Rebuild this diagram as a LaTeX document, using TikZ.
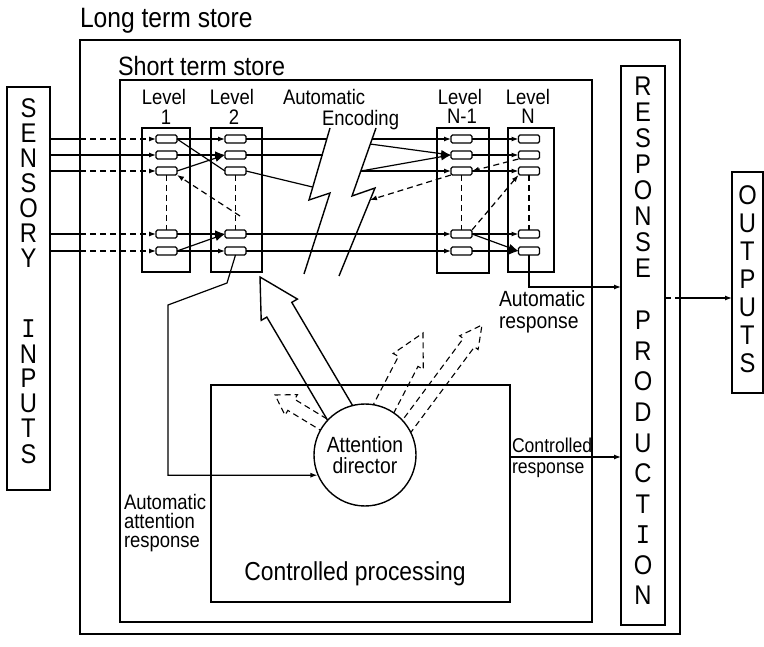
\documentclass[tikz,border=0pt]{standalone}
\usepackage{fontspec}
\setmainfont{Liberation Sans}[FakeStretch=0.88]
\newfontfamily\monof{Liberation Mono}[FakeStretch=0.88]
\usetikzlibrary{arrows.meta,calc}
\newcommand\serifI{{\monof I}}
\newcommand\hollowarr[7]{%
  \coordinate (#2N) at ($(#4)!#7!(#3)$);
  \draw[#1] ($(#3)!#5!90:(#4)$) -- ($(#2N)!#5!90:(#4)$) -- ($(#2N)!#6!90:(#4)$) -- (#4)
    -- ($(#2N)!#6!-90:(#4)$) -- ($(#2N)!#5!-90:(#4)$) -- ($(#3)!#5!-90:(#4)$) -- cycle;}
\begin{document}
\begin{tikzpicture}[x=1pt,y=-1pt,
  bigbox/.style={draw, line width=#1, inner sep=0, outer sep=0, anchor=north west},
  cellbox/.style={draw, line width=1.1pt, rounded corners=1.5pt, minimum width=21pt, minimum height=8pt, inner sep=0, outer sep=0},
  conn/.style={line width=1.2pt},
  arr/.style={conn,-{Latex[length=7pt,width=5pt]}},
  barr/.style={conn,-{Latex[length=10pt,width=7.5pt]}},
  dsh/.style={dash pattern=on 6pt off 4pt},
  lbl/.style={inner sep=0, outer sep=0, font=\fontsize{#1}{#1}\selectfont},
  vlet/.style={inner sep=0, anchor=base, font=\fontsize{27}{27}\selectfont}]
\useasboundingbox (0,0) rectangle (764,647);

% titles
\node[lbl=28, anchor=base west] (ltst) at (80,28) {Long term store};
\node[lbl=26.5, anchor=base west] (stst) at (118,76) {Short term store};

% main boxes
\node[bigbox=2.2pt, minimum width=600pt, minimum height=594pt] (lts) at (80,40) {};
\node[bigbox=2pt, minimum width=472pt, minimum height=542pt] (sts) at (120,80) {};
\node[bigbox=1.4pt, minimum width=299pt, minimum height=217pt] (cp) at (211,385) {};
\node[bigbox=1.4pt, minimum width=44pt, minimum height=559pt] (resp) at (621,66) {};
\node[bigbox=1.4pt, minimum width=31pt, minimum height=221pt] (outp) at (732,172) {};
\node[bigbox=1.4pt, minimum width=43pt, minimum height=403pt] (sens) at (7,87) {};

% level boxes
\node[bigbox=1.3pt, minimum width=48pt, minimum height=144pt] (lev1) at (142,128) {};
\node[bigbox=1.3pt, minimum width=51pt, minimum height=144pt] (lev2) at (211,128) {};
\node[bigbox=1.3pt, minimum width=52pt, minimum height=145pt] (lev3) at (437,128) {};
\node[bigbox=1.3pt, minimum width=46pt, minimum height=144pt] (lev4) at (508,128) {};

% cells
\foreach \c/\x in {1/166.5, 2/235.5, 3/461.5, 4/529}{
  \foreach \r/\y in {1/139, 2/155, 3/171, 4/234, 5/251}{
    \node[cellbox] (c\c r\r) at (\x,\y) {};
  }
  \draw[conn,dsh] (c\c r3.south) -- (c\c r4.north);
}

% level labels
\node[lbl=21, anchor=base] (l1a) at (164,105) {Level};
\node[lbl=21, anchor=base] (l1b) at (166,125) {1};
\node[lbl=21, anchor=base] (l2a) at (232,105) {Level};
\node[lbl=21, anchor=base] (l2b) at (234,125) {2};
\node[lbl=21, anchor=base] (l3a) at (460,105) {Level};
\node[lbl=21, anchor=base] (l3b) at (462,124) {N-1};
\node[lbl=21, anchor=base] (l4a) at (528,105) {Level};
\node[lbl=21, anchor=base] (l4b) at (528,124) {N};
\node[lbl=21, anchor=base west] (aut) at (283,105) {Automatic};
\node[lbl=21, anchor=base west] (enc) at (322,126) {Encoding};

% sensory inputs
\foreach \c in {1,3,4,5}{
  \draw[conn] (sens.east |- c1r\c) -- (lts.west |- c1r\c);
  \draw[arr,dsh] (lts.west |- c1r\c) -- (c1r\c.west);
}
\draw[arr] (sens.east |- c1r2) -- (c1r2.west);

% level 1 -> level 2
\draw[arr] (c1r1.east) -- (c2r1.west);
\draw[barr] (c1r2.east) -- (c2r2.west);
\draw[barr] (c1r3.east) -- (c2r2.west);
\draw[conn] (c1r1.east) -- (c2r3.west);
\draw[barr] (c1r4.east) -- (c2r4.west);
\draw[barr] (c1r5.east) -- (c2r4.west);
\draw[arr] (c1r5.east) -- (c2r5.west);
\coordinate (d2) at (240,216);
\draw[arr,dsh] (d2) -- (c1r3.south east);

% lightning bolt
\draw[conn,line width=1.4pt,line join=miter] (330,128) -- (309,200) -- (330,193) -- (304,274);
\draw[conn,line width=1.4pt,line join=miter] (376,128) -- (352,196) -- (375,188) -- (339,276);
\coordinate (bl1) at (327,139);
\coordinate (bl2) at (322.5,155);
\coordinate (bl3) at (312.5,187);
\coordinate (br1) at (372,139);
\coordinate (br2) at (370,144);
\coordinate (br3) at (361,171);
\coordinate (br4) at (370,200);
\draw[conn] (c2r1.east) -- (bl1);
\draw[conn] (c2r2.east) -- (bl2);
\draw[conn] (c2r3.east) -- (bl3);
\draw[arr] (br1) -- (c3r1.west);
\draw[barr] (br2) -- (c3r2.west);
\draw[barr] (br3) -- (c3r2.west);
\draw[arr] (br3) -- (c3r3.west);
\draw[arr,dsh] (c3r3.south west) -- (br4);
\draw[arr] (c2r4.east) -- (c3r4.west);
\draw[arr] (c2r5.east) -- (c3r5.west);

% level N-1 -> level N
\draw[arr] (c3r1.east) -- (c4r1.west);
\draw[arr] (c3r2.east) -- (c4r2.west);
\draw[arr] (c3r3.east) -- (c4r3.west);
\draw[arr,dsh] (c4r2.south west) -- (c3r3.east);
\draw[arr] (c3r4.east) -- (c4r4.west);
\draw[barr] (c3r4.east) -- (c4r5.west);
\draw[barr] (c3r5.east) -- (c4r5.west);
\draw[arr,dsh] (c3r4.north east) -- (c4r3.south west);

% automatic response
\coordinate (arY) at (600,287);
\draw[arr] (c4r5.south) |- (resp.west |- arY);
\node[lbl=22, anchor=base west] (autr1) at (499,307) {Automatic};
\node[lbl=22, anchor=base west] (autr2) at (499,329) {response};

% output
\coordinate (roY) at (700,298);
\draw[conn,dsh] (resp.east |- roY) -- (lts.east |- roY);
\draw[arr] (lts.east |- roY) -- (outp.west |- roY);

% hollow arrows from the attention director
\coordinate (bigS) at (349,428);
\coordinate (bigT) at (260,277);
\hollowarr{line width=1.4pt,line join=miter}{big}{bigS}{bigT}{14.5pt}{21pt}{38pt}
\coordinate (aS) at (336,432);
\coordinate (aT) at (275,395);
\hollowarr{line width=1.1pt,dsh}{da}{aS}{aT}{6.5pt}{12pt}{19pt}
\coordinate (bS) at (372,431);
\coordinate (bT) at (423,333);
\hollowarr{line width=1.1pt,dsh}{db}{bS}{bT}{11pt}{17pt}{32pt}
\coordinate (cS) at (392,446);
\coordinate (cT) at (482,325);
\hollowarr{line width=1.1pt,dsh}{dc}{cS}{cT}{7pt}{11.5pt}{22pt}

% attention director
\node[circle, draw, line width=1.4pt, fill=white, minimum size=102pt, inner sep=0, align=center, font=\fontsize{22}{21}\selectfont] (ad) at (365,455) {Attention\\director};

% automatic attention response
\coordinate (aa1) at (227,283);
\coordinate (aa2) at (168,305);
\draw[arr] (c2r5.south) -- (aa1) -- (aa2) |- (ad.203);
\node[lbl=21, anchor=base west] (aat1) at (124,509) {Automatic};
\node[lbl=21, anchor=base west] (aat2) at (124,528) {attention};
\node[lbl=21, anchor=base west] (aat3) at (124,547) {response};

% controlled response
\coordinate (crY) at (560,457);
\draw[arr] (cp.east |- crY) -- (resp.west |- crY);
\node[lbl=20, anchor=base west] (ctl1) at (512,453) {Controlled};
\node[lbl=20, anchor=base west] (ctl2) at (512,473) {response};

\node[lbl=26, anchor=base] (cpt) at (355,580) {Controlled processing};

% vertical words
\foreach \l/\y [count=\i] in {S/118,E/143,N/168,S/193,O/218,R/243,Y/268,\serifI/338,N/363,P/388,U/413,T/438,S/463}
  {\node[vlet] (sn\i) at (28.5,\y) {\l};}
\foreach \l/\y [count=\i] in {R/96,E/122,S/148,P/174,O/200,N/226,S/252,E/278,P/330,R/360.5,O/391,D/421.5,U/452,C/482.5,T/513,\serifI/543.5,O/574,N/604.5}
  {\node[vlet] (rp\i) at (643,\y) {\l};}
\foreach \l/\y [count=\i] in {O/205,U/233,T/261,P/289,U/317,T/345,S/373}
  {\node[vlet] (op\i) at (747.5,\y) {\l};}
\end{tikzpicture}
\end{document}
